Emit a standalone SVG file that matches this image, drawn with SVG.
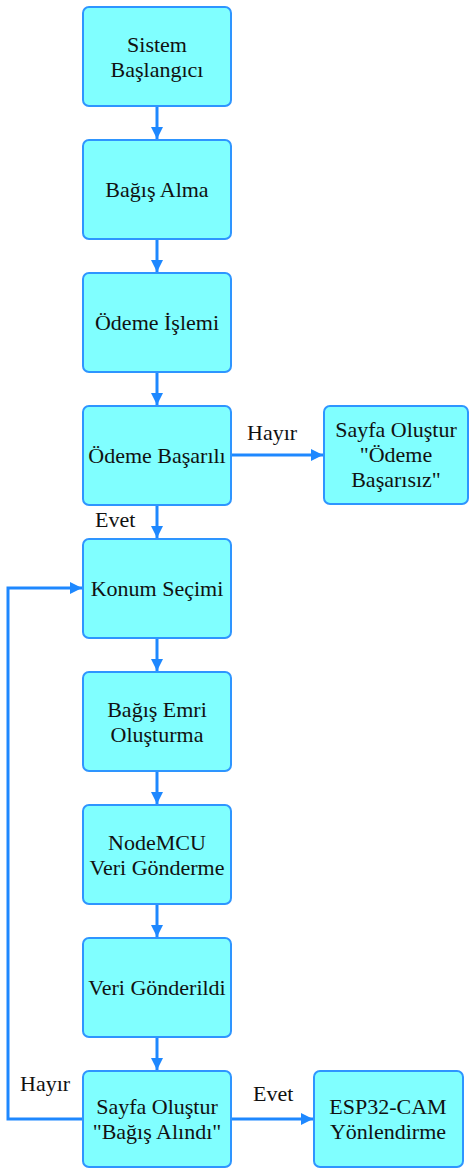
<svg xmlns="http://www.w3.org/2000/svg" width="470" height="1169" viewBox="0 0 470 1169">
<style>
.box{fill:#80FFFF;stroke:#2E95FF;stroke-width:2}
.c{fill:none;stroke:#1E88FF;stroke-width:3}
</style>
<defs>
<marker id="ah" markerWidth="12" markerHeight="12" refX="12" refY="6" orient="auto" markerUnits="userSpaceOnUse">
<path d="M0,0 L12,6 L0,12 Z" fill="#1E88FF"/>
</marker>
</defs>
<rect width="470" height="1169" fill="#fff"/>
<g id="connectors">
<path class="c" d="M157,106 V139" marker-end="url(#ah)"/>
<path class="c" d="M157,239 V272" marker-end="url(#ah)"/>
<path class="c" d="M157,372 V405" marker-end="url(#ah)"/>
<path class="c" d="M231,455 H323" marker-end="url(#ah)"/>
<path class="c" d="M157,505 V538" marker-end="url(#ah)"/>
<path class="c" d="M157,638 V671" marker-end="url(#ah)"/>
<path class="c" d="M157,771 V804" marker-end="url(#ah)"/>
<path class="c" d="M157,904 V937" marker-end="url(#ah)"/>
<path class="c" d="M157,1037 V1070" marker-end="url(#ah)"/>
<path class="c" d="M231,1119 H313" marker-end="url(#ah)"/>
<path class="c" d="M83,1119 H8 V588 H82" marker-end="url(#ah)"/>
<text x="247" y="440" font-family="Liberation Serif" font-size="22" fill="#111">Hayır</text>
<text x="95" y="527" font-family="Liberation Serif" font-size="22" fill="#111">Evet</text>
<text x="20" y="1091" font-family="Liberation Serif" font-size="22" fill="#111">Hayır</text>
<text x="253" y="1101" font-family="Liberation Serif" font-size="22" fill="#111">Evet</text>
</g>
<g id="n1"><rect class="box" x="83" y="7" width="148" height="99" rx="6"/><text x="157" y="52" font-family="Liberation Serif" font-size="22" fill="#111" text-anchor="middle">Sistem</text><text x="157" y="77" font-family="Liberation Serif" font-size="22" fill="#111" text-anchor="middle">Başlangıcı</text></g>
<g id="n2"><rect class="box" x="83" y="140" width="148" height="99" rx="6"/><text x="157" y="197" font-family="Liberation Serif" font-size="22" fill="#111" text-anchor="middle">Bağış Alma</text></g>
<g id="n3"><rect class="box" x="83" y="273" width="148" height="99" rx="6"/><text x="157" y="330" font-family="Liberation Serif" font-size="22" fill="#111" text-anchor="middle">Ödeme İşlemi</text></g>
<g id="n4"><rect class="box" x="83" y="406" width="148" height="99" rx="6"/><text x="157" y="463" font-family="Liberation Serif" font-size="22" fill="#111" text-anchor="middle">Ödeme Başarılı</text></g>
<g id="n5"><rect class="box" x="324" y="406" width="144" height="98" rx="6"/><text x="396" y="437" font-family="Liberation Serif" font-size="22" fill="#111" text-anchor="middle">Sayfa Oluştur</text><text x="396" y="462" font-family="Liberation Serif" font-size="22" fill="#111" text-anchor="middle">"Ödeme</text><text x="396" y="487" font-family="Liberation Serif" font-size="22" fill="#111" text-anchor="middle">Başarısız"</text></g>
<g id="n6"><rect class="box" x="83" y="539" width="148" height="99" rx="6"/><text x="157" y="596" font-family="Liberation Serif" font-size="22" fill="#111" text-anchor="middle">Konum Seçimi</text></g>
<g id="n7"><rect class="box" x="83" y="672" width="148" height="99" rx="6"/><text x="157" y="717" font-family="Liberation Serif" font-size="22" fill="#111" text-anchor="middle">Bağış Emri</text><text x="157" y="742" font-family="Liberation Serif" font-size="22" fill="#111" text-anchor="middle">Oluşturma</text></g>
<g id="n8"><rect class="box" x="83" y="805" width="148" height="99" rx="6"/><text x="157" y="850" font-family="Liberation Serif" font-size="22" fill="#111" text-anchor="middle">NodeMCU</text><text x="157" y="875" font-family="Liberation Serif" font-size="22" fill="#111" text-anchor="middle">Veri Gönderme</text></g>
<g id="n9"><rect class="box" x="83" y="938" width="148" height="99" rx="6"/><text x="157" y="995" font-family="Liberation Serif" font-size="22" fill="#111" text-anchor="middle">Veri Gönderildi</text></g>
<g id="n10"><rect class="box" x="83" y="1071" width="148" height="96" rx="6"/><text x="157" y="1114" font-family="Liberation Serif" font-size="22" fill="#111" text-anchor="middle">Sayfa Oluştur</text><text x="157" y="1139" font-family="Liberation Serif" font-size="22" fill="#111" text-anchor="middle">"Bağış Alındı"</text></g>
<g id="n11"><rect class="box" x="314" y="1071" width="149" height="96" rx="6"/><text x="388" y="1114" font-family="Liberation Serif" font-size="22" fill="#111" text-anchor="middle">ESP32-CAM</text><text x="388" y="1139" font-family="Liberation Serif" font-size="22" fill="#111" text-anchor="middle">Yönlendirme</text></g>
</svg>
